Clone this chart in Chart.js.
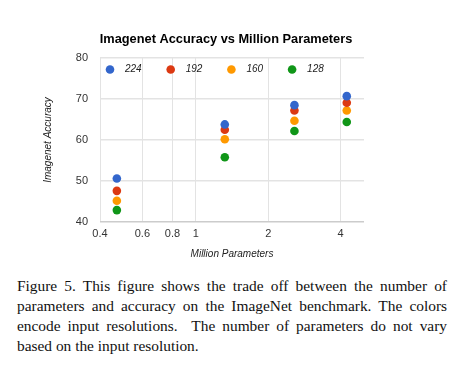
<!DOCTYPE html>
<html lang="en">
<head>
<meta charset="UTF-8">
<title>Imagenet Accuracy vs Million Parameters</title>
<style>
  body { margin: 0; background: #fff; width: 466px; height: 369px; overflow: hidden; position: relative; }
  #chart { position: absolute; left: 0; top: 0; }
  .caption {
    position: absolute; left: 17px; top: 276px; width: 430px;
    font-family: "Liberation Serif", "Times New Roman", serif;
    font-size: 15.4px; line-height: 20px; color: #111;
    text-align: justify;
  }
</style>
</head>
<body>
<canvas id="chart" width="466" height="265"></canvas>
<div class="caption">Figure 5. This figure shows the trade off between the number of parameters and accuracy on the ImageNet benchmark. The colors encode input resolutions.&nbsp; The number of parameters do not vary based on the input resolution.</div>

<script src="https://cdn.jsdelivr.net/npm/chart.js@4/dist/chart.umd.min.js"></script>
<script>
// million parameters per model
var params = [0.47, 1.32, 2.57, 4.24];
var resolutions = ['224', '192', '160', '128'];
var colors = ['#3366cc', '#dc3912', '#ff9900', '#109618'];
var acc224 = [50.6, 63.8, 68.5, 70.7];
var acc192 = [47.6, 62.5, 67.2, 69.1];
var acc160 = [45.2, 60.2, 64.7, 67.2];
var acc128 = [42.9, 55.8, 62.2, 64.4];
var xTicks = [0.4, 0.6, 0.8, 1, 2, 4];
var yTicks = [40, 50, 60, 70, 80];

var series = [acc224, acc192, acc160, acc128];
var datasets = series.map(function (vals, i) {
    return {
        label: resolutions[i],
        data: vals.map(function (v, j) { return { x: params[j], y: v }; }),
        backgroundColor: colors[i],
        borderColor: colors[i],
        pointRadius: 4.3,
        pointHoverRadius: 4.3,
        borderWidth: 0
    };
});

// title, axis titles and in-plot legend
var decor = {
    id: 'decor',
    afterDraw: function (chart) {
        var ctx = chart.ctx, a = chart.chartArea;
        ctx.save();
        ctx.fillStyle = '#000';
        ctx.textAlign = 'center';
        ctx.textBaseline = 'middle';
        ctx.font = 'bold 12.8px "Liberation Sans", Arial, sans-serif';
        ctx.fillText('Imagenet Accuracy vs Million Parameters', 226, 39);

        ctx.fillStyle = '#222';
        ctx.font = 'italic 10px "Liberation Sans", Arial, sans-serif';
        ctx.fillText('Million Parameters', 232, 254);
        ctx.save();
        ctx.translate(48, 140);
        ctx.rotate(-Math.PI / 2);
        ctx.fillText('Imagenet Accuracy', 0, 0);
        ctx.restore();

        ctx.textAlign = 'left';
        chart.data.datasets.forEach(function (ds, i) {
            var x = a.left + 10 + i * 60.7, y = a.top + 11.5;
            ctx.fillStyle = ds.backgroundColor;
            ctx.beginPath();
            ctx.arc(x, y, 4.3, 0, Math.PI * 2);
            ctx.fill();
            ctx.fillStyle = '#222';
            ctx.fillText(ds.label, x + 15, y);
        });
        ctx.restore();
    }
};

new Chart(document.getElementById('chart'), {
    type: 'scatter',
    data: { datasets: datasets },
    plugins: [decor],
    options: {
        responsive: false,
        animation: false,
        layout: { padding: { left: 0, top: 58, right: 102, bottom: 0 } },
        plugins: { legend: { display: false }, title: { display: false }, tooltip: { enabled: false } },
        scales: {
            x: {
                type: 'logarithmic',
                min: 0.4,
                max: 5,
                afterFit: function (s) { s.height = 43; },
                afterBuildTicks: function (s) { s.ticks = xTicks.map(function (v) { return { value: v }; }); },
                ticks: {
                    color: '#333',
                    padding: 5,
                    maxRotation: 0,
                    autoSkip: false,
                    font: { family: '"Liberation Sans", Arial, sans-serif', size: 11 },
                    callback: function (v) { return String(v); }
                },
                grid: { color: '#e3e3e3', drawTicks: false, lineWidth: 1 },
                border: { display: false }
            },
            y: {
                min: 40,
                max: 80,
                afterFit: function (s) { s.width = 100; },
                afterBuildTicks: function (s) { s.ticks = yTicks.map(function (v) { return { value: v }; }); },
                ticks: {
                    color: '#333',
                    padding: 12,
                    font: { family: '"Liberation Sans", Arial, sans-serif', size: 11 }
                },
                grid: {
                    drawTicks: false,
                    color: function (c) { return c.tick && c.tick.value === 40 ? '#cccccc' : '#e3e3e3'; },
                    lineWidth: 1.5
                },
                border: { display: false }
            }
        }
    }
});
</script>
</body>
</html>
